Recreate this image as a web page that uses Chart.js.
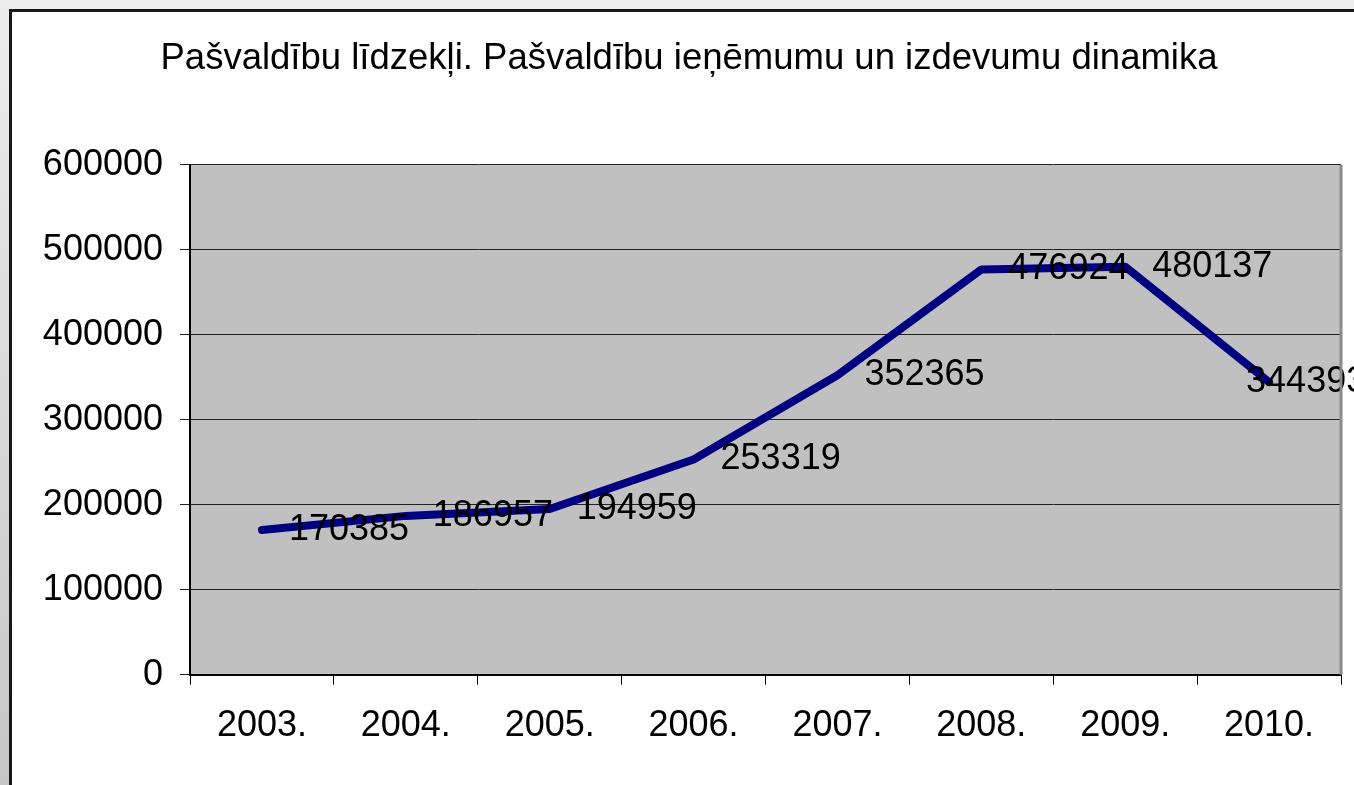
<!DOCTYPE html>
<html>
<head>
<meta charset="utf-8">
<title>Pašvaldību līdzekļi</title>
<script src="https://cdn.jsdelivr.net/npm/chart.js@4/dist/chart.umd.min.js"></script>
<style>
  html, body { margin: 0; padding: 0; }
  body { width: 1354px; height: 785px; overflow: hidden; background: linear-gradient(#ededed, #c6c6c6); position: relative; }
  #frame { position: absolute; left: 9px; top: 9px; right: 0; bottom: 0; background: #fff; border-left: 3px solid #161616; border-top: 3px solid #161616; }
  #chart { position: absolute; left: 0; top: 0; }
</style>
</head>
<body>
<div id="frame"></div>
<canvas id="chart" width="1354" height="785"></canvas>
<script>
const chartTitle = 'Pašvaldību līdzekļi. Pašvaldību ieņēmumu un izdevumu dinamika';
const years = ['2003.', '2004.', '2005.', '2006.', '2007.', '2008.', '2009.', '2010.'];
const totals = [170385, 186957, 194959, 253319, 352365, 476924, 480137, 344393];
const yTicks = [0, 100000, 200000, 300000, 400000, 500000, 600000];

const FONT = '"Liberation Sans", Arial, sans-serif';

// grey plot background plus the lighter right-hand edge
const plotArea = {
  id: 'plotArea',
  beforeDraw(chart) {
    const { ctx, chartArea: a } = chart;
    ctx.save();
    ctx.fillStyle = '#c0c0c0';
    ctx.fillRect(a.left, a.top, a.right - a.left, a.bottom - a.top);
    ctx.restore();
  },
  afterDraw(chart) {
    const { ctx, chartArea: a } = chart;
    ctx.save();
    ctx.strokeStyle = '#8a8a8a';
    ctx.lineWidth = 3;
    ctx.beginPath();
    ctx.moveTo(a.right, a.top);
    ctx.lineTo(a.right, a.bottom);
    ctx.stroke();
    ctx.restore();
  }
};

// value written to the right of each point
const valueLabels = {
  id: 'valueLabels',
  afterDatasetsDraw(chart) {
    const { ctx } = chart;
    const meta = chart.getDatasetMeta(0);
    ctx.save();
    ctx.font = '36px ' + FONT;
    ctx.fillStyle = '#000';
    ctx.textBaseline = 'middle';
    ctx.textAlign = 'left';
    meta.data.forEach((pt, i) => {
      const text = String(totals[i]);
      const w = ctx.measureText(text).width;
      let x = pt.x + 27;
      if (x + w > chart.width + 40) x = pt.x - 23;
      ctx.fillText(text, x, pt.y);
    });
    ctx.restore();
  }
};

new Chart(document.getElementById('chart'), {
  type: 'line',
  data: {
    labels: years,
    datasets: [{
      data: totals,
      borderColor: '#000080',
      borderWidth: 8,
      borderCapStyle: 'round',
      borderJoinStyle: 'round',
      tension: 0,
      pointRadius: 0,
      fill: false
    }]
  },
  options: {
    responsive: false,
    animation: false,
    layout: { padding: { left: 37, right: 13, top: 0, bottom: 17 } },
    plugins: {
      legend: { display: false },
      tooltip: { enabled: false },
      title: {
        display: true,
        text: chartTitle,
        color: '#000',
        font: { family: FONT, size: 36.5, weight: 'normal' },
        padding: { top: 37, bottom: 84 }
      }
    },
    scales: {
      x: {
        offset: true,
        grid: { offset: true, drawOnChartArea: false, drawTicks: true, tickLength: 10, color: '#000' },
        border: { display: true, color: '#000', width: 2 },
        ticks: { color: '#000', font: { family: FONT, size: 36 }, padding: 20, maxRotation: 0, autoSkip: false }
      },
      y: {
        min: 0,
        max: 600000,
        afterBuildTicks(scale) { scale.ticks = yTicks.map(v => ({ value: v })); },
        afterFit(scale) { scale.width = 153; },
        grid: { color: '#222', lineWidth: 1, tickLength: 10 },
        border: { display: true, color: '#000', width: 2 },
        ticks: { color: '#000', font: { family: FONT, size: 36 }, padding: 17, callback: v => String(v) }
      }
    }
  },
  plugins: [plotArea, valueLabels]
});
</script>
</body>
</html>
